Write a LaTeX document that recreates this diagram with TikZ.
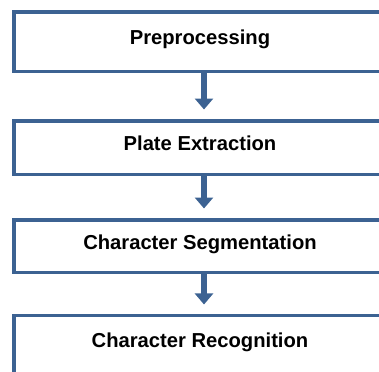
\documentclass[tikz,border=0pt]{standalone}
\usepackage{fontspec}
\setmainfont{Liberation Sans}
\usetikzlibrary{arrows.meta,positioning}
\definecolor{stepblue}{RGB}{60,98,146}
\begin{document}
\begin{tikzpicture}[x=1bp,y=-1bp,line join=miter,
	stagebox/.style={draw=stepblue,line width=3.5bp,fill=white,minimum width=372bp,inner sep=0pt,text height=14bp,text depth=7.6bp,font=\fontsize{20.2bp}{24bp}\selectfont\bfseries},
	flowarrow/.style={draw=stepblue,line width=6.5bp,-{Triangle[width=18bp,length=11bp]},shorten >=9.5bp}]
		\useasboundingbox (0,0) rectangle (379,372);
		\clip (0,0) rectangle (379,372);
		\node[stagebox,minimum height=59.5bp] (pre) at (200,41.5) {Preprocessing};
		\node[stagebox,minimum height=53.5bp] (plate) at (200,147.5) {Plate Extraction};
		\node[stagebox,minimum height=52.5bp] (seg) at (200,246) {Character Segmentation};
		\node[stagebox,minimum height=57.75bp] (rec) at (200,344.6) {Character Recognition};
		\foreach \a/\b in {pre/plate,plate/seg,seg/rec}{\draw[flowarrow] ([xshift=4bp]\a.south) -- ([xshift=4bp]\b.north);}
		\end{tikzpicture}
\end{document}
